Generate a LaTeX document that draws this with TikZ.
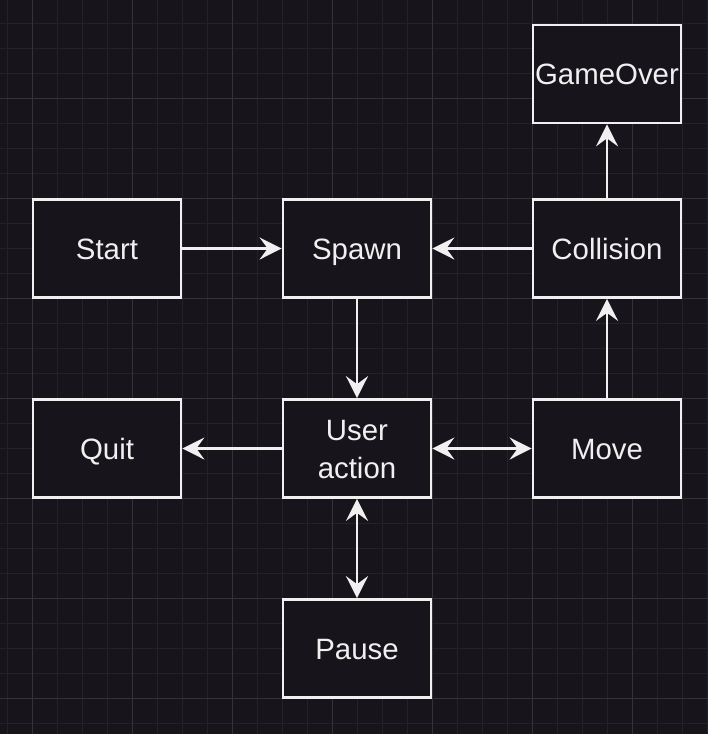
\documentclass[tikz,border=0pt]{standalone}
\usepackage{fontspec}
\setmainfont{Liberation Sans}
\usetikzlibrary{arrows.meta}
\tikzset{>={Stealth[length=22pt,width=22pt,inset=8pt]}}
\definecolor{darkbg}{RGB}{24,20,28}
\definecolor{gridminor}{RGB}{36,33,41}
\definecolor{gridmajor}{RGB}{52,49,57}
\definecolor{chalk}{RGB}{240,240,240}
\tikzstyle{statebox}=[draw=chalk,fill=darkbg,line width=2.7pt,minimum width=148pt,minimum height=98pt,inner sep=0pt,text=chalk,align=center,text height=27pt,text depth=6pt,font=\fontsize{29.4}{38}\selectfont]
\tikzstyle{flow}=[draw=chalk,line width=2.7pt]

\begin{document}
\begin{tikzpicture}[x=1pt,y=-1pt]
    \fill[darkbg] (0,0) rectangle (708,734);
    \useasboundingbox (0,0) rectangle (708,734);
    
    % grid
    \foreach \x in {7,32,...,707}{
      \draw[gridminor,line width=1pt] (\x,0) -- (\x,734);
    }
    \foreach \y in {23,48,...,723}{
      \draw[gridminor,line width=1pt] (0,\y) -- (708,\y);
    }
    \foreach \x in {32,132,...,632}{
      \draw[gridmajor,line width=1pt] (\x,0) -- (\x,734);
    }
    \foreach \y in {98,198,...,698}{
      \draw[gridmajor,line width=1pt] (0,\y) -- (708,\y);
    }
    
    \node[statebox] (start) at (107,248.5) {Start};
    \node[statebox] (spawn) at (357,248.5) {Spawn};
    \node[statebox] (collision) at (607,248.5) {Collision};
    \node[statebox] (gameover) at (607,74) {GameOver};
    \node[statebox] (quit) at (107,448.5) {Quit};
    \node[statebox,text height=65pt] (useraction) at (357,448.5) {User\\action};
    \node[statebox] (move) at (607,448.5) {Move};
    \node[statebox] (pause) at (357,648.5) {Pause};
    
    \draw[flow,->] (start) -- (spawn);
    \draw[flow,->] (collision) -- (spawn);
    \draw[flow,->] (spawn) -- (useraction);
    \draw[flow,->] (useraction) -- (quit);
    \draw[flow,<->] (useraction) -- (move);
    \draw[flow,<->] (useraction) -- (pause);
    \draw[flow,->] (move) -- (collision);
    \draw[flow,->] (collision) -- (gameover);
  \end{tikzpicture}
\end{document}
